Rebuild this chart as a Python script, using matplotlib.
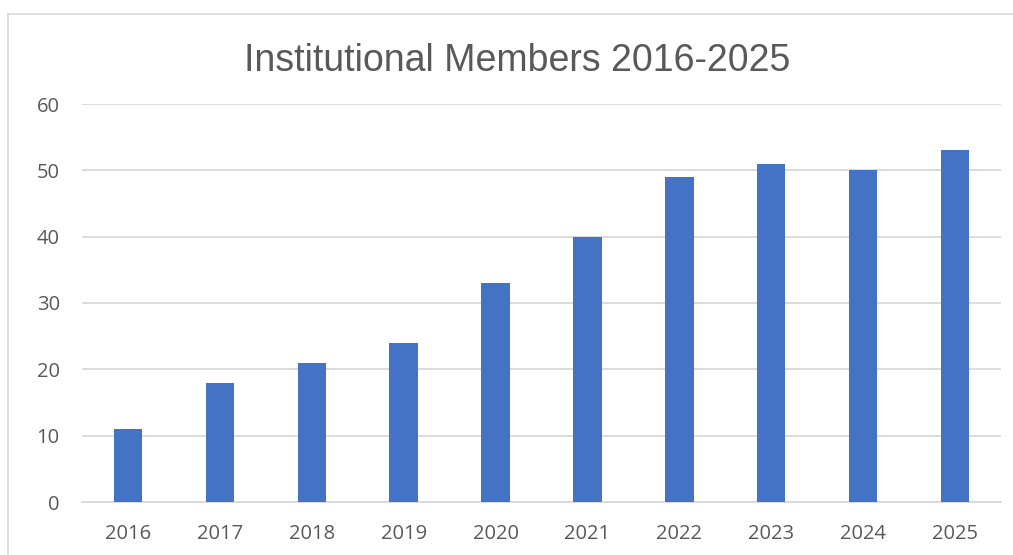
import matplotlib
matplotlib.use("Agg")
import matplotlib.pyplot as plt
from matplotlib.lines import Line2D

years = ["2016", "2017", "2018", "2019", "2020", "2021", "2022", "2023", "2024", "2025"]
members = [11, 18, 21, 24, 33, 40, 49, 51, 50, 53]
yticks = [0, 10, 20, 30, 40, 50, 60]

plt.rcParams['font.family'] = ['Open Sans', 'DejaVu Sans']
W, H = 1013, 555
fig = plt.figure(figsize=(W / 100, H / 100), dpi=100)
ax = fig.add_axes([82 / W, 1 - 502 / H, (1001 - 82) / W, (502 - 104) / H])

x = list(range(len(years)))
ax.bar(x, members, width=0.31, color="#4472C4", zorder=3)
ax.set_xlim(-0.5, len(years) - 0.5)
ax.set_ylim(0, 60)
ax.set_yticks(yticks)
ax.set_xticks(x)
ax.set_xticklabels(years)
ax.yaxis.grid(True, color="#D9D9D9", linewidth=1.3, zorder=0)
ax.set_axisbelow(True)
for s in ["top", "right", "left"]:
    ax.spines[s].set_visible(False)
ax.spines["bottom"].set_color("#D9D9D9")
ax.spines["bottom"].set_linewidth(1.3)
ax.tick_params(axis="both", length=0, labelsize=14.5, colors="#595959")
ax.tick_params(axis="y", pad=16)
ax.tick_params(axis="x", pad=16)

fig.text(517 / W, 1 - 71 / H, "Institutional Members 2016-2025", ha="center", va="baseline",
         fontsize=27, color="#595959", family=['Liberation Sans', 'DejaVu Sans'])

# chart frame (left and top edges visible)
fig.add_artist(Line2D([8 / W, 8 / W], [0, 1 - 14 / H], transform=fig.transFigure, color="#D9D9D9", linewidth=1.2))
fig.add_artist(Line2D([8 / W, 1], [1 - 14 / H, 1 - 14 / H], transform=fig.transFigure, color="#D9D9D9", linewidth=1.2))

fig.savefig("out.png", dpi=100)
